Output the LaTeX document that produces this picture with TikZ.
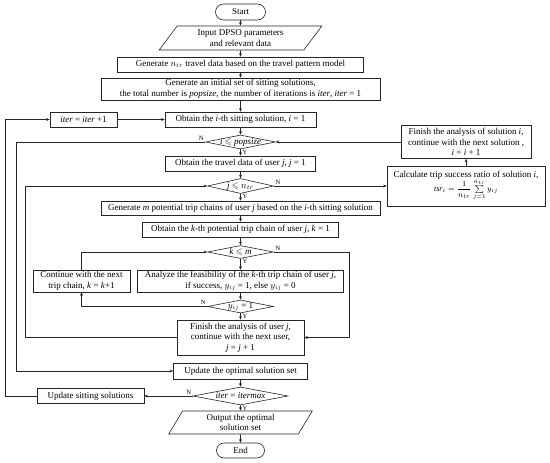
\documentclass[tikz,border=0pt]{standalone}
\usepackage{amsmath,amssymb}
\usepackage{fontspec}
\setmainfont{Liberation Serif}
\usetikzlibrary{shapes.geometric,arrows.meta}
\begin{document}
\begin{tikzpicture}[x=1pt,y=-1pt,
  font=\fontsize{9}{10.5}\selectfont,
  box/.style={draw=black!85, line width=0.6pt, align=center, inner sep=1pt},
  sz/.style 2 args={minimum width=#1, minimum height=#2},
  dia/.style={draw=black!85, line width=0.6pt, diamond, inner sep=0pt},
  para/.style={draw=black!85, line width=0.6pt, trapezium, trapezium stretches=true, align=center, inner sep=1pt},
  arr/.style={draw=black!85, line width=0.6pt, -{Stealth[length=3.5pt,width=3pt]}},
  yn/.style={font=\fontsize{6.5}{7}\selectfont, inner sep=0.5pt}]
\useasboundingbox (0,0) rectangle (550,463);

\coordinate (L1) at (5,0);
\coordinate (L2) at (16,0);
\coordinate (L3) at (25,0);
\coordinate (R1) at (349,0);

\node[box, rounded corners=8pt, sz={50}{16}] (start) at (240.5,12) {Start};
\node[para, trapezium left angle=56, trapezium right angle=124, sz={163}{24}] (input) at (240.5,38) {Input DPSO parameters\\and relevant data};
\node[box, sz={246}{15}] (gn) at (240.5,64.5) {Generate $n_{tr}$ travel data based on the travel pattern model};
\node[box, sz={279}{22}] (gi) at (240.5,89) {Generate an initial set of sitting solutions,\\the total number is \textit{popsize}, the number of iterations is \textit{iter}, \textit{iter} = 1};
\node[box, sz={67}{15}] (it) at (83.5,119.5) {\textit{iter} = \textit{iter} +1};
\node[box, sz={151}{15}] (oi) at (240.5,119.5) {Obtain the \textit{i}-th sitting solution, \textit{i} = 1};
\node[dia, sz={70}{14}, label=center:{\textit{i} $\leqslant$ \textit{popsize}}] (d1) at (240.5,142) {};
\node[box, sz={130}{33}] (fs) at (466,142) {Finish the analysis of solution \textit{i},\\continue with the next solution ,\\\textit{i} = \textit{i} + 1};
\node[box, sz={158}{40}] (calc) at (466,186) {Calculate trip success ratio of solution \textit{i},\\{\footnotesize $\mathit{tsr}_i=\dfrac{1}{n_{tr}}\sum\limits_{j=1}^{n_{tr}}y_{ij}$}};
\node[box, sz={150}{15}] (ot) at (240.5,163.5) {Obtain the travel data of user \textit{j}, \textit{j} = 1};
\node[dia, sz={66}{15}, label=center:{\textit{j} $\leqslant$ $n_{tr}$}] (d2) at (240.5,186) {};
\node[box, sz={279}{14}] (gm) at (240.5,208) {Generate \textit{m} potential trip chains of user \textit{j} based on the \textit{i}-th sitting solution};
\node[box, sz={196}{15}] (ok) at (240.5,229.5) {Obtain the \textit{k}-th potential trip chain of user \textit{j}, \textit{k} = 1};
\node[dia, sz={66}{13}, label=center:{\textit{k} $\leqslant$ \textit{m}}] (d3) at (240.5,252) {};
\node[box, sz={206}{22}] (an) at (240.5,281) {Analyze the feasibility of the \textit{k}-th trip chain of user \textit{j},\\if success, $y_{ij}$ = 1, else $y_{ij}$ = 0};
\node[box, sz={97}{22}] (ct) at (81.5,281) {Continue with the next\\trip chain, \textit{k} = \textit{k}+1};
\node[dia, sz={66}{13}, label=center:{$y_{ij}$ = 1}] (d4) at (240.5,306.5) {};
\node[box, sz={127}{35}] (fu) at (240.5,337.5) {Finish the analysis of user \textit{j},\\continue with the next user,\\\textit{j} = \textit{j} + 1};
\node[box, sz={134}{16}] (uo) at (240.5,371) {Update the optimal solution set};
\node[dia, sz={95}{18}, label=center:{\textit{iter} = \textit{itermax}}] (dm) at (240.5,396) {};
\node[box, sz={107}{15}] (us) at (90.5,396) {Update sitting solutions};
\node[para, trapezium left angle=66, trapezium right angle=114, sz={144}{23}] (out) at (240.5,422.5) {Output the optimal\\solution set};
\node[box, rounded corners=7.5pt, sz={48}{15}] (end) at (240.5,450.5) {End};

% Y / N labels
\node[yn, anchor=north west] (y1) at ([xshift=1.5pt]d1.south) {Y};
\node[yn, anchor=north west] (y2) at ([xshift=1.5pt]d2.south) {Y};
\node[yn, anchor=north west] (y3) at ([xshift=1.5pt]d3.south) {Y};
\node[yn, anchor=north west] (y4) at ([xshift=1.5pt]d4.south) {Y};
\node[yn, anchor=north west] (y5) at ([xshift=1.5pt]dm.south) {Y};
\node[yn, anchor=south east] (n1) at ([xshift=-1pt,yshift=1pt]d1.west) {N};
\node[yn, anchor=south west] (n2) at ([xshift=1pt,yshift=1pt]d2.east) {N};
\node[yn, anchor=south west] (n3) at ([xshift=1pt,yshift=1pt]d3.east) {N};
\node[yn, anchor=south east] (n4) at ([xshift=-1pt,yshift=1pt]d4.west) {N};
\node[yn, anchor=south east] (n5) at ([xshift=-1pt,yshift=1pt]dm.west) {N};

% main column
\draw[arr] (start) -- (input);
\draw[arr] (input) -- (gn);
\draw[arr] (gn) -- (gi);
\draw[arr] (gi) -- (oi);
\draw[arr] (oi) -- (d1);
\draw[arr] (d1) -- (ot);
\draw[arr] (ot) -- (d2);
\draw[arr] (d2) -- (gm);
\draw[arr] (gm) -- (ok);
\draw[arr] (ok) -- (d3);
\draw[arr] (d3) -- (an);
\draw[arr] (an) -- (d4);
\draw[arr] (d4) -- (fu);
\draw[arr] (uo) -- (dm);
\draw[arr] (dm) -- (out);
\draw[arr] (out) -- (end);

% side connectors
\draw[arr] (it.east) -- (oi.west);
\draw[arr] (us.west) -- (us.west -| L1) -- (it.west -| L1) -- (it.west);
\draw[arr] (d1.west) -- (d1.west -| L2) -- (uo.west -| L2) -- (uo.west);
\draw[arr] (fs.west) -- (d1.east);
\draw[arr] (calc.north) -- (fs.south);
\draw[arr] (d2.east) -- (calc.west);
\draw[arr] (fu.west) -- (fu.west -| L3) -- (d2.west -| L3) -- (d2.west);
\draw[arr] (ct.north) |- (d3.west);
\draw[arr] (d4.west) -| (ct.south);
\draw[arr] (d3.east) -- (d3.east -| R1) -- (fu.east -| R1) -- (fu.east);
\draw[arr] (dm.west) -- (us.east);
\end{tikzpicture}
\end{document}
